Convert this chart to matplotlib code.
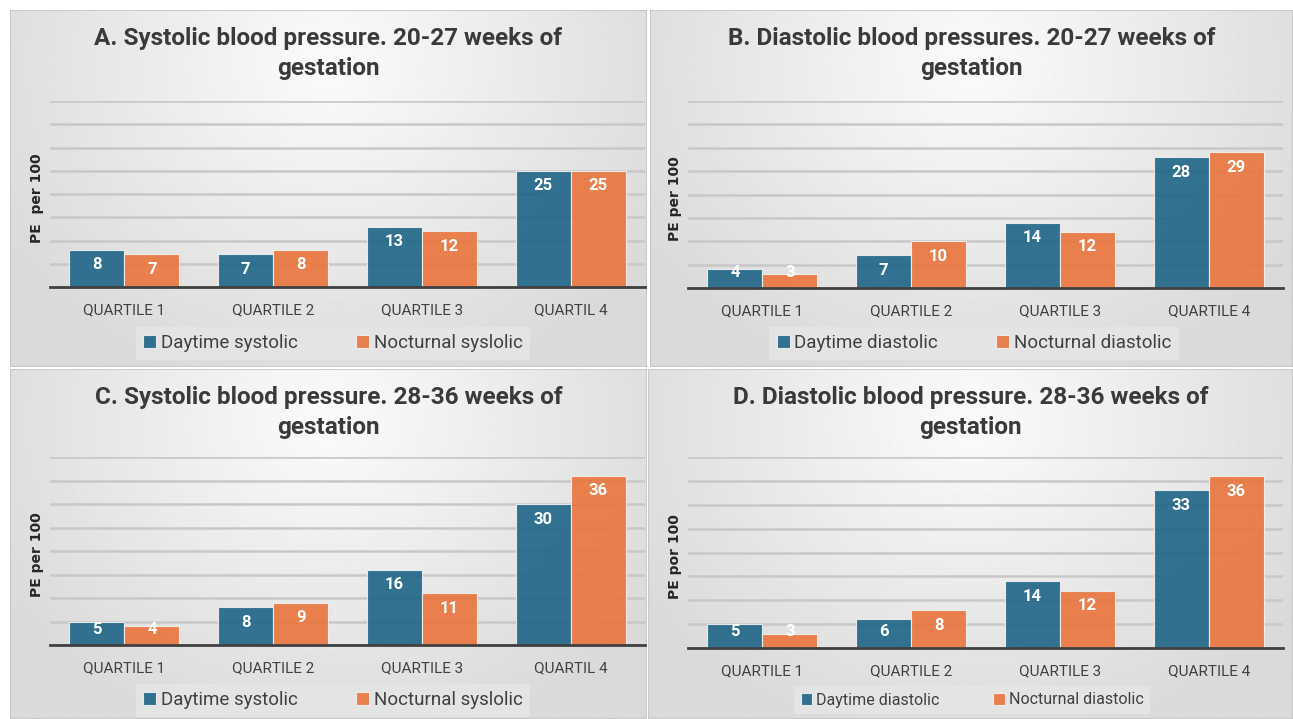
import numpy as np
import matplotlib.pyplot as plt
from matplotlib.patches import Rectangle

W, H = 1293, 719

quartiles_sys = ["QUARTILE 1", "QUARTILE 2", "QUARTILE 3", "QUARTIL 4"]
quartiles_dia = ["QUARTILE 1", "QUARTILE 2", "QUARTILE 3", "QUARTILE 4"]

day_a = [8, 7, 13, 25]
night_a = [7, 8, 12, 25]
day_b = [4, 7, 14, 28]
night_b = [3, 10, 12, 29]
day_c = [5, 8, 16, 30]
night_c = [4, 9, 11, 36]
day_d = [5, 6, 14, 33]
night_d = [3, 8, 12, 36]

titles = [
    "A. Systolic blood pressure. 20-27 weeks of\ngestation",
    "B. Diastolic blood pressures. 20-27 weeks of\ngestation",
    "C. Systolic blood pressure. 28-36 weeks of\ngestation",
    "D. Diastolic blood pressure. 28-36 weeks of\ngestation",
]
ylabels = ["PE  per 100", "PE per 100", "PE per 100", "PE por 100"]
legend_sys = ["Daytime systolic", "Nocturnal syslolic"]
legend_dia = ["Daytime diastolic", "Nocturnal diastolic"]

BLUE = "#1E6486"
ORANGE = "#EA743C"
TXT = "#404040"


def fr(x0, y0, x1, y1):
    # pixel box (top-left origin) -> figure fraction rect
    return [x0 / W, 1 - y1 / H, (x1 - x0) / W, (y1 - y0) / H]


def draw_panel(fig, box, plot_box, title, ylabel, cats, day, night, labels,
               leg_xy, leg_size, colsp):
    # gradient background
    bg = fig.add_axes(fr(*box), zorder=0)
    yy, xx = np.mgrid[0:1:200j, 0:1:300j]
    d = np.sqrt(((xx - 0.5) / 0.6) ** 2 + ((yy - 0.15) / 0.95) ** 2)
    img = 0.985 - 0.13 * np.clip(d, 0, 1)
    bg.imshow(img, cmap="gray", vmin=0, vmax=1, extent=[0, 1, 0, 1],
              aspect="auto", origin="upper")
    bg.add_patch(Rectangle((0, 0), 1, 1, transform=bg.transAxes, fill=False,
                           edgecolor="#C4C4C4", lw=1.2))
    bg.set_axis_off()

    cx = (box[0] + box[2]) / 2
    fig.text(cx / W, 1 - (box[1] + 17) / H, title, ha="center",
             va="top", fontsize=17.5, fontweight="bold", color="#3A3A3A",
             family="Roboto", linespacing=1.4)

    ax = fig.add_axes(fr(*plot_box), zorder=1)
    ax.set_facecolor("none")
    x = np.arange(len(cats))
    w = 0.37
    ax.bar(x - w / 2, day, w, color=BLUE, alpha=0.9, edgecolor="#F2F2F2",
           lw=0.8, zorder=3, label=labels[0])
    ax.bar(x + w / 2, night, w, color=ORANGE, alpha=0.9, edgecolor="#F2F2F2",
           lw=0.8, zorder=3, label=labels[1])
    for xs, vals in ((x - w / 2, day), (x + w / 2, night)):
        for xi, v in zip(xs, vals):
            ax.text(xi, max(v - 3.2, 3.4), str(v), ha="center", va="center",
                    color="white", fontsize=12, fontweight="bold",
                    family="Roboto", zorder=4)

    ax.set_ylim(0, 40)
    ax.set_xlim(-0.5, 3.5)
    ax.set_yticks(np.arange(0, 41, 5))
    ax.yaxis.grid(True, color="#C8C8C8", lw=1.8, zorder=1)
    ax.set_axisbelow(True)
    ax.tick_params(axis="y", length=0, labelleft=False)
    ax.tick_params(axis="x", length=0, pad=12, labelsize=11, colors=TXT)
    ax.set_xticks(x)
    ax.set_xticklabels(cats, family="Roboto")
    for s in ("top", "left", "right"):
        ax.spines[s].set_visible(False)
    ax.spines["bottom"].set_color(TXT)
    ax.spines["bottom"].set_linewidth(2)
    ax.spines["bottom"].set_zorder(5)
    ax.set_ylabel(ylabel, fontsize=10, fontweight="bold", color="#262626")
    ax.yaxis.set_label_coords(-0.01, 0.48)

    lx, ly = leg_xy
    leg = ax.legend(loc="center", bbox_to_anchor=(lx / W, 1 - ly / H),
                    bbox_transform=fig.transFigure, ncol=2, frameon=True,
                    fancybox=False, facecolor="#E4E4E4", edgecolor="none",
                    framealpha=1, handlelength=0.7, handleheight=0.7,
                    handletextpad=0.25, columnspacing=colsp, borderpad=0.4,
                    prop={"family": "Roboto", "size": leg_size})
    for t in leg.get_texts():
        t.set_color(TXT)
    return ax


fig = plt.figure(figsize=(W / 100, H / 100), dpi=100)
fig.patch.set_facecolor("white")

draw_panel(fig, (10, 10, 647, 367), (50, 101, 645, 287), titles[0], ylabels[0],
           quartiles_sys, day_a, night_a, legend_sys, (333, 343), 13.5, 3.1)
draw_panel(fig, (650, 10, 1293, 367), (688, 101, 1283, 288), titles[1], ylabels[1],
           quartiles_dia, day_b, night_b, legend_dia, (974, 343), 13.5, 3.1)
draw_panel(fig, (10, 369, 647, 719), (50, 457, 645, 645), titles[2], ylabels[2],
           quartiles_sys, day_c, night_c, legend_sys, (333, 700), 13.5, 3.1)
draw_panel(fig, (648, 369, 1293, 719), (688, 457, 1283, 648), titles[3], ylabels[3],
           quartiles_dia, day_d, night_d, legend_dia, (972, 700), 11.5, 3.4)

fig.savefig("out.png", dpi=100)
